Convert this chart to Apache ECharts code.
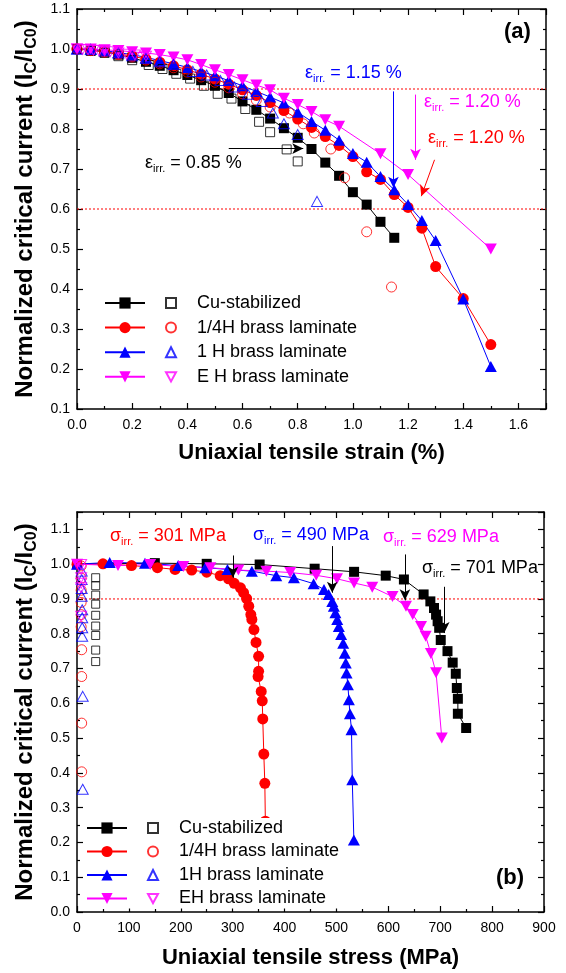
<!DOCTYPE html>
<html><head><meta charset="utf-8">
<script src="https://cdn.jsdelivr.net/npm/echarts/dist/echarts.min.js"></script>
<style>html,body{margin:0;padding:0;background:#fff}#c{width:566px;height:973px}</style>
</head><body><div id="c"></div>
<script>
// ---------- (a) Ic/Ic0 vs uniaxial tensile strain (%) ----------
const aCuFilledStrain = [0,0.05,0.1,0.15,0.2,0.25,0.3,0.35,0.4,0.45,0.5,0.55,0.6,0.65,0.7,0.75,0.8,0.85,0.9,0.95,1.0,1.05,1.1,1.15];
const aCuFilledIc     = [1.0,0.997,0.993,0.986,0.978,0.968,0.958,0.947,0.935,0.922,0.908,0.89,0.869,0.848,0.826,0.802,0.778,0.75,0.716,0.683,0.642,0.611,0.568,0.528];
const aCuOpenStrain   = [0,0.05,0.1,0.15,0.2,0.26,0.31,0.36,0.41,0.46,0.51,0.56,0.61,0.66,0.70,0.76,0.80];
const aCuOpenIc       = [1.0,0.995,0.99,0.982,0.972,0.96,0.95,0.938,0.926,0.908,0.888,0.876,0.85,0.818,0.792,0.749,0.719];
const aQFilledStrain  = [0,0.05,0.1,0.15,0.2,0.25,0.3,0.35,0.4,0.45,0.5,0.55,0.6,0.65,0.7,0.75,0.8,0.85,0.9,0.95,1.0,1.05,1.1,1.15,1.2,1.25,1.3,1.4,1.5];
const aQFilledIc      = [1.0,0.997,0.993,0.988,0.982,0.975,0.967,0.958,0.948,0.937,0.925,0.912,0.898,0.884,0.866,0.846,0.825,0.804,0.781,0.759,0.731,0.693,0.674,0.636,0.604,0.552,0.456,0.376,0.261];
const aQOpenStrain    = [0,0.05,0.1,0.15,0.2,0.25,0.3,0.35,0.4,0.45,0.5,0.55,0.6,0.65,0.7,0.77,0.82,0.86,0.92,0.97,1.05,1.14];
const aQOpenIc        = [1.0,0.996,0.992,0.986,0.98,0.972,0.963,0.953,0.942,0.93,0.917,0.903,0.888,0.872,0.855,0.84,0.813,0.79,0.75,0.678,0.543,0.405];
const aHFilledStrain  = [0,0.05,0.1,0.15,0.2,0.25,0.3,0.35,0.4,0.45,0.5,0.55,0.6,0.65,0.7,0.75,0.8,0.85,0.9,0.95,1.0,1.05,1.1,1.15,1.2,1.25,1.3,1.4,1.5];
const aHFilledIc      = [1.0,1.0,0.996,0.991,0.986,0.979,0.971,0.963,0.954,0.944,0.933,0.921,0.908,0.894,0.88,0.865,0.842,0.819,0.797,0.772,0.739,0.717,0.681,0.648,0.611,0.571,0.521,0.375,0.206];
const aHOpenStrain    = [0,0.05,0.1,0.15,0.2,0.25,0.3,0.35,0.42,0.47,0.52,0.57,0.62,0.67,0.71,0.75,0.80,0.87];
const aHOpenIc        = [1.0,0.999,0.995,0.99,0.983,0.976,0.968,0.961,0.944,0.935,0.921,0.905,0.887,0.869,0.84,0.813,0.786,0.619];
const aEFilledStrain  = [0,0.05,0.1,0.15,0.2,0.25,0.3,0.35,0.4,0.45,0.5,0.55,0.6,0.65,0.7,0.75,0.8,0.85,0.9,0.95,1.1,1.2,1.5];
const aEFilledIc      = [1.0,1.0,0.998,0.996,0.993,0.99,0.986,0.98,0.973,0.961,0.948,0.936,0.923,0.91,0.898,0.877,0.861,0.844,0.823,0.807,0.738,0.686,0.5];
const aEOpenStrain    = [0,0.02,0.04,0.06,0.08,0.1,0.12,0.15,0.18,0.21,0.25];
const aEOpenIc        = [1.0,0.999,0.998,0.997,0.996,0.995,0.993,0.99,0.987,0.985,0.982];

// ---------- (b) Ic/Ic0 vs uniaxial tensile stress (MPa) ----------
const bCuFilledStress = [0,150,250,352,458,534,595,630,668,681,688,692,695,698,701,714,724,730,732,734,734,750];
const bCuFilledIc     = [1.0,1.003,1.001,0.999,0.987,0.978,0.967,0.956,0.913,0.893,0.874,0.855,0.836,0.817,0.782,0.75,0.717,0.685,0.644,0.613,0.57,0.529];
const bCuOpenStress   = [36,36,36,36,36,36,36,36,36];
const bCuOpenIc       = [0.961,0.938,0.911,0.885,0.853,0.822,0.795,0.753,0.72];
const bQFilledStress  = [0,50,105,155,189,221,250,276,292,303,315,321,327,331,335,337,341,345,350,350,349,355,357,358,360,362,363];
const bQFilledIc      = [1.0,1.001,0.996,0.99,0.985,0.983,0.977,0.967,0.958,0.945,0.932,0.918,0.901,0.879,0.855,0.841,0.812,0.775,0.735,0.692,0.677,0.634,0.607,0.555,0.454,0.37,0.261];
const bQOpenStress    = [8,8,8,8,8,8,9,9,9,9];
const bQOpenIc        = [0.995,0.96,0.925,0.89,0.855,0.82,0.754,0.677,0.543,0.403];
const bHFilledStress  = [0,63,131,195,247,290,337,384,418,456,476,485,492,495,498,501.5,504.6,509,513,516,518,519.5,522,524,526,529,530.5,533.6];
const bHFilledIc      = [1.0,1.005,1.003,0.996,0.99,0.985,0.98,0.967,0.961,0.944,0.927,0.913,0.893,0.879,0.86,0.841,0.821,0.798,0.773,0.744,0.716,0.687,0.653,0.61,0.57,0.524,0.38,0.207];
const bHOpenStress    = [9,9,9,9,10,10,10,10,11,11];
const bHOpenIc        = [0.98,0.956,0.93,0.908,0.869,0.846,0.817,0.793,0.62,0.353];
const bEFilledStress  = [0,79,141,205,257,311,365,411,461,501,534,569,608,634,647,663,672,682,692,703];
const bEFilledIc      = [1.0,0.996,0.999,0.993,0.99,0.983,0.98,0.976,0.968,0.958,0.946,0.934,0.907,0.879,0.855,0.821,0.793,0.743,0.688,0.5];
const bEOpenStress    = [8,8,8,8,8,8];
const bEOpenIc        = [0.999,0.985,0.961,0.945,0.932,0.85];

// axis ranges, reference levels, legend texts
const strainRange = [0, 1.7];
const stressRange = [0, 900];
const refLinesA = [0.9, 0.6];
const refLinesB = [0.9];
const legendLabels = {
  aCuF:'Cu-stabilized', aQF:'1/4H brass laminate', aHF:'1 H brass laminate', aEF:'E H brass laminate',
  bCuF:'Cu-stabilized', bQF:'1/4H brass laminate', bHF:'1H brass laminate', bEF:'EH brass laminate'
};

const FONT = '"Liberation Sans", Arial, Helvetica, sans-serif';
const DOWN = 'path://M0,0L12,0L6,11Z';
const RED = '#ff0000';
const pairs = (xs, ys) => xs.map((x, i) => [x, ys[i]]);

function ax(o) {
  return Object.assign({
    type: 'value', splitLine: {show: false},
    axisLine: {show: true, onZero: false, lineStyle: {color: '#000', width: 1.5}},
    axisTick: {show: true, inside: true, length: 6, lineStyle: {color: '#000', width: 1.2}},
    minorTick: {show: true, splitNumber: 2, length: 3, lineStyle: {color: '#000', width: 1.2}},
    axisLabel: {show: false}
  }, o);
}
const lbl = (fmt, extra) => Object.assign({show: true, fontSize: 14, fontFamily: FONT, color: '#000', formatter: fmt}, extra || {});
const xName = {fontSize: 22, fontWeight: 'bold', fontFamily: FONT, color: '#000'};
const yNameTxt = '{m|Normalized critical current (I}{s|C}{m|/I}{s|C0}{m|)}';
const yNameStyle = {
  fontFamily: FONT, color: '#000', fontWeight: 'bold', fontSize: 24,
  rich: {
    m: {fontSize: 24, fontWeight: 'bold', fontFamily: FONT, lineHeight: 28},
    s: {fontSize: 16, fontWeight: 'bold', fontFamily: FONT, lineHeight: 16, verticalAlign: 'bottom'}
  }
};

function lineSeries(name, xi, xs, ys, color, symbol, size, extra) {
  return Object.assign({
    name, type: 'line', xAxisIndex: xi, yAxisIndex: xi, data: pairs(xs, ys),
    symbol, symbolSize: size, showSymbol: true,
    lineStyle: {color, width: 1}, itemStyle: {color}, z: 3
  }, extra || {});
}
function openSeries(name, xi, xs, ys, color, symbol, size) {
  return {
    name, type: 'scatter', xAxisIndex: xi, yAxisIndex: xi, data: pairs(xs, ys),
    symbol, symbolSize: size,
    itemStyle: {color: 'rgba(255,255,255,0)', borderColor: color, borderWidth: 1}, z: 4
  };
}
function refLine(xi, range, v) {
  return {
    type: 'line', xAxisIndex: xi, yAxisIndex: xi, silent: true, symbol: 'none',
    data: [[range[0], v], [range[1], v]],
    lineStyle: {color: RED, width: 1, type: [2, 2]}, z: 1
  };
}
function arrows(list, color) {
  return {
    silent: true, symbol: ['none', 'arrow'], symbolSize: [8, 11],
    label: {show: false}, lineStyle: {color, width: 1, type: 'solid'},
    data: list.map(a => [{coord: a[0]}, {coord: a[1]}])
  };
}
function annot(x, y, greek, rest, color) {
  return {
    type: 'text', x, y, z: 20,
    style: {
      text: '{g|' + greek + '}{s|irr.}{m| ' + rest + '}',
      fill: color, verticalAlign: 'middle', align: 'left',
      rich: {
        g: {fontSize: 18, lineHeight: 22, fontFamily: FONT},
        s: {fontSize: 11, lineHeight: 11, fontFamily: FONT, verticalAlign: 'bottom'},
        m: {fontSize: 18, lineHeight: 22, fontFamily: FONT}
      }
    }
  };
}
const legendText = {fontSize: 18, fontFamily: FONT, color: '#000', lineHeight: 20};

const chart = echarts.init(document.getElementById('c'), null, {renderer: 'canvas'});
chart.setOption({
  animation: false,
  backgroundColor: '#fff',
  grid: [
    {left: 77, top: 9, width: 469, height: 400},
    {left: 77, top: 512, width: 467, height: 400}
  ],
  xAxis: [
    ax({gridIndex: 0, position: 'bottom', min: strainRange[0], max: strainRange[1], interval: 0.2,
        axisLabel: lbl(v => v.toFixed(1), {margin: 9, showMaxLabel: false}),
        name: 'Uniaxial tensile strain (%)', nameLocation: 'middle', nameGap: 33, nameTextStyle: xName}),
    ax({gridIndex: 0, position: 'top', min: strainRange[0], max: strainRange[1], interval: 0.2}),
    ax({gridIndex: 1, position: 'bottom', min: stressRange[0], max: stressRange[1], interval: 100,
        axisLabel: lbl(v => String(Math.round(v)), {margin: 9}),
        name: 'Uniaxial tensile stress (MPa)', nameLocation: 'middle', nameGap: 35, nameTextStyle: xName}),
    ax({gridIndex: 1, position: 'top', min: stressRange[0], max: stressRange[1], interval: 100})
  ],
  yAxis: [
    ax({gridIndex: 0, position: 'left', min: 0.1, max: 1.1, interval: 0.1,
        axisLabel: lbl(v => v.toFixed(1), {margin: 7}),
        name: yNameTxt, nameLocation: 'middle', nameGap: 34, nameTextStyle: yNameStyle}),
    ax({gridIndex: 0, position: 'right', min: 0.1, max: 1.1, interval: 0.1}),
    ax({gridIndex: 1, position: 'left', min: 0, max: 1.15, interval: 0.1,
        axisLabel: lbl(v => v.toFixed(1), {margin: 7, showMaxLabel: false}),
        name: yNameTxt, nameLocation: 'middle', nameGap: 34, nameTextStyle: yNameStyle}),
    ax({gridIndex: 1, position: 'right', min: 0, max: 1.15, interval: 0.1})
  ],
  legend: [
    {orient: 'vertical', left: 104, top: 293, itemWidth: 40, itemHeight: 14, itemGap: 4.6, padding: 0,
     selectedMode: false, data: ['aCuF', 'aQF', 'aHF', 'aEF'], formatter: n => legendLabels[n],
     textStyle: Object.assign({padding: [0, 0, 0, 47]}, legendText)},
    {orient: 'vertical', left: 165, top: 293, itemWidth: 10, itemHeight: 10, itemGap: 4.6, padding: 0, z: 6,
     selectedMode: false, data: ['aCuO', 'aQO', 'aHO', 'aEO'], formatter: () => ' ', textStyle: legendText},
    {orient: 'vertical', left: 86, top: 818, itemWidth: 40, itemHeight: 14, itemGap: 3.5, padding: [0, 3, 0, 0],
     backgroundColor: '#fff', selectedMode: false, data: ['bCuF', 'bQF', 'bHF', 'bEF'], formatter: n => legendLabels[n],
     textStyle: Object.assign({padding: [0, 0, 0, 47]}, legendText)},
    {orient: 'vertical', left: 147, top: 818, itemWidth: 10, itemHeight: 10, itemGap: 3.5, padding: 0, z: 6,
     selectedMode: false, data: ['bCuO', 'bQO', 'bHO', 'bEO'], formatter: () => ' ', textStyle: legendText}
  ],
  series: [
    // reference levels
    ...refLinesA.map(v => refLine(0, strainRange, v)),
    ...refLinesB.map(v => refLine(2, stressRange, v)),
    // (a)
    lineSeries('aCuF', 0, aCuFilledStrain, aCuFilledIc, '#000000', 'rect', 10,
      {markLine: arrows([[[0.55, 0.751], [0.82, 0.751]]], '#000000')}),
    openSeries('aCuO', 0, aCuOpenStrain, aCuOpenIc, '#000000', 'rect', 9),
    lineSeries('aQF', 0, aQFilledStrain, aQFilledIc, RED, 'circle', 11,
      {markLine: arrows([[[1.296, 0.723], [1.248, 0.632]]], RED)}),
    openSeries('aQO', 0, aQOpenStrain, aQOpenIc, RED, 'circle', 10),
    lineSeries('aHF', 0, aHFilledStrain, aHFilledIc, '#0000ff', 'triangle', [12, 11],
      {markLine: arrows([[[1.147, 0.894], [1.147, 0.653]]], '#0000ff')}),
    openSeries('aHO', 0, aHOpenStrain, aHOpenIc, '#0000ff', 'triangle', [11, 10]),
    lineSeries('aEF', 0, aEFilledStrain, aEFilledIc, '#ff00ff', DOWN, [12, 11],
      {markLine: arrows([[[1.227, 0.886], [1.227, 0.723]]], '#ff00ff')}),
    openSeries('aEO', 0, aEOpenStrain, aEOpenIc, '#ff00ff', DOWN, [11, 10]),
    // (b)
    lineSeries('bCuF', 2, bCuFilledStress, bCuFilledIc, '#000000', 'rect', 10,
      {markLine: arrows([
        [[300.5, 1.025], [300.5, 0.961]],
        [[491.9, 1.052], [491.9, 0.918]],
        [[632, 1.028], [632, 0.896]],
        [[707.7, 0.935], [707.7, 0.802]]
      ], '#000000')}),
    openSeries('bCuO', 2, bCuOpenStress, bCuOpenIc, '#000000', 'rect', 8),
    lineSeries('bQF', 2, bQFilledStress, bQFilledIc, RED, 'circle', 11),
    openSeries('bQO', 2, bQOpenStress, bQOpenIc, RED, 'circle', 10),
    lineSeries('bHF', 2, bHFilledStress, bHFilledIc, '#0000ff', 'triangle', [12, 11]),
    openSeries('bHO', 2, bHOpenStress, bHOpenIc, '#0000ff', 'triangle', [11, 10]),
    lineSeries('bEF', 2, bEFilledStress, bEFilledIc, '#ff00ff', DOWN, [12, 11]),
    openSeries('bEO', 2, bEOpenStress, bEOpenIc, '#ff00ff', DOWN, [11, 10])
  ],
  graphic: [
    {type: 'text', x: 504, y: 32, z: 20, style: {text: '(a)', fill: '#000', fontSize: 22, fontWeight: 'bold', fontFamily: FONT, verticalAlign: 'middle'}},
    {type: 'text', x: 496, y: 878, z: 20, style: {text: '(b)', fill: '#000', fontSize: 22, fontWeight: 'bold', fontFamily: FONT, verticalAlign: 'middle'}},
    annot(145, 163, 'ε', '= 0.85 %', '#000000'),
    annot(305, 73, 'ε', '= 1.15 %', '#0000ff'),
    annot(424, 102, 'ε', '= 1.20 %', '#ff00ff'),
    annot(428, 138, 'ε', '= 1.20 %', RED),
    annot(110, 536, 'σ', '= 301 MPa', RED),
    annot(253, 535, 'σ', '= 490 MPa', '#0000ff'),
    annot(383, 537, 'σ', '= 629 MPa', '#ff00ff'),
    annot(422, 568, 'σ', '= 701 MPa', '#000000')
  ]
});
</script>
</body></html>
